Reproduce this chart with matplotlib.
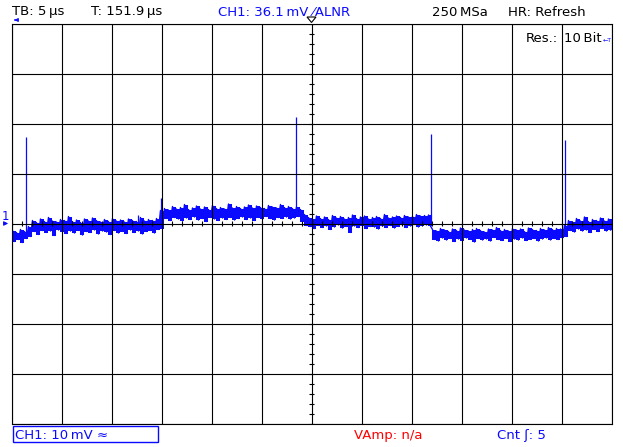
import numpy as np
import matplotlib
matplotlib.use("Agg")
import matplotlib.pyplot as plt
from matplotlib.patches import Polygon, Rectangle, FancyArrowPatch
from matplotlib.transforms import blended_transform_factory

# screen settings (5 us/div, 10 mV/div, 12 x 8 divisions)
time_per_div = 5.0      # us
volt_per_div = 10.0     # mV
ch1_offset = 0.4        # mV, ground marker
trig_level = 36.1       # mV

# trace envelope, one column every 0.4 us from -30 us, in mV (max / min of the column)
trace_hi = [
    -1.4, -1.8, -1.2, -1.6, -0.6, 0.6, 0.2, 0.9, 0.4, 1.2,
    0.5, 0.3, 0.8, 0.6, 1.4, 0.4, 0.7, 0.2, 0.9, 0.5,
    1.1, 0.6, 0.3, 0.8, 0.4, 1.0, 0.5, 0.7, 0.3, 0.9,
    0.6, 0.4, 1.2, 0.5, 0.8, 0.6, 1.0, 2.6, 3.0, 2.7,
    3.4, 2.9, 3.2, 3.8, 2.8, 3.1, 3.5, 2.9, 3.3, 2.8,
    3.6, 3.0, 3.2, 2.9, 3.9, 3.1, 3.4, 3.0, 3.3, 3.7,
    3.1, 3.5, 3.2, 3.0, 3.6, 3.3, 3.1, 3.8, 3.2, 3.4,
    3.0, 3.3, 2.8, 1.8, 1.2, 0.9, 1.5, 1.0, 1.3, 0.8,
    1.6, 1.1, 1.4, 0.9, 1.2, 1.7, 1.0, 1.3, 1.5, 0.9,
    1.2, 1.4, 1.0, 1.8, 1.1, 1.3, 1.5, 1.2, 1.6, 1.3,
    1.4, 1.8, 1.5, 1.6, 1.7, -1.2, -1.5, -1.0, -1.3, -1.6,
    -1.1, -1.4, -0.9, -1.3, -1.5, -1.2, -1.0, -1.4, -1.7, -1.1,
    -1.3, -0.8, -1.4, -1.2, -1.5, -1.0, -1.3, -1.1, -1.6, -0.9,
    -1.2, -1.4, -1.0, -1.3, -0.8, -1.2, -1.0, -1.1, -0.4, 0.6,
    0.3, 1.0, 0.5, 1.3, 0.4, 0.8, 0.6, 1.1, 0.5, 0.9,
]
trace_lo = [
    -3.6, -3.2, -3.8, -3.0, -2.6, -1.6, -2.2, -1.4, -1.8, -1.5,
    -2.4, -1.3, -1.7, -2.0, -1.5, -1.9, -1.4, -2.3, -1.6, -1.8,
    -1.3, -2.1, -1.5, -1.7, -2.2, -1.4, -1.9, -1.6, -2.0, -1.3,
    -1.8, -1.5, -2.1, -1.6, -1.4, -1.9, -1.2, -1.0, 1.0, 0.6,
    1.2, 0.9, 0.5, 1.1, 0.8, 1.3, 0.7, 1.0, 0.4, 1.2,
    0.9, 0.6, 1.1, 0.8, 1.2, 0.7, 1.0, 1.3, 0.8, 1.1,
    0.6, 1.2, 0.9, 1.4, 1.0, 0.7, 1.2, 1.0, 1.3, 0.9,
    1.1, 1.4, 0.4, -0.4, -0.6, -1.0, -0.4, -0.8, -0.5, -1.2,
    -0.7, -0.3, -0.9, -0.6, -1.8, -0.5, -0.8, -0.4, -1.0, -0.6,
    -0.7, -1.1, -0.5, -0.8, -0.4, -0.9, -0.6, -0.3, -0.8, -0.5,
    -0.2, -0.7, -0.4, -0.3, -0.5, -3.2, -3.5, -2.9, -3.3, -3.0,
    -3.6, -3.1, -3.4, -2.9, -3.2, -3.7, -3.0, -3.3, -3.1, -3.5,
    -2.8, -3.2, -3.4, -3.0, -3.6, -3.1, -3.3, -2.9, -3.4, -3.2,
    -3.0, -3.5, -3.1, -2.9, -3.3, -3.0, -3.2, -2.9, -2.6, -1.4,
    -1.7, -1.1, -1.5, -1.3, -1.8, -1.2, -1.6, -1.0, -1.5, -1.3,
]

# glitches: time (us), foot and top (mV)
spike_t = [-28.55, -17.35, -15.05, -1.6, 11.9, 25.38]
spike_base = [-2.5, -0.5, -0.5, 2.0, 0.2, -1.0]
spike_top = [17.4, 1.8, 5.2, 21.4, 18.0, 16.8]

BLUE = "#0a0aff"
RED = "#ff0000"
W, H = 623, 447


def fx(px):
    return px / W


def fy(py):
    return 1 - py / H


fig = plt.figure(figsize=(W / 100, H / 100), dpi=100)
fig.patch.set_facecolor("white")
ax = fig.add_axes([fx(11.5), fy(423.5), 600 / W, 400 / H])

t_span = 6 * time_per_div
v_span = 4 * volt_per_div
ax.set_xlim(-t_span, t_span)
ax.set_ylim(-v_span, v_span)

# graticule
ax.set_xticks(np.arange(-t_span, t_span + 0.1, time_per_div))
ax.set_yticks(np.arange(-v_span, v_span + 0.1, volt_per_div))
ax.tick_params(length=0, labelbottom=False, labelleft=False)
ax.grid(True, color="black", lw=0.8)
ax.set_axisbelow(False)
for s in ax.spines.values():
    s.set_linewidth(0.8)
    s.set_color("black")

# small ticks on the centre cross
minor_t = np.arange(-t_span, t_span + 0.1, time_per_div / 5)
minor_v = np.arange(-v_span, v_span + 0.1, volt_per_div / 5)
ax.vlines(minor_t, -0.46, 0.46, color="black", lw=0.8, zorder=3)
ax.hlines(minor_v, -0.23, 0.23, color="black", lw=0.8, zorder=3)

# trace: solid column envelope plus a zigzag between max and min
n = len(trace_hi)
t_col = -t_span + 0.2 + 0.4 * np.arange(n)
ax.vlines(t_col, trace_lo, trace_hi, color=BLUE, lw=2.9, zorder=2)
ts = np.empty(2 * n)
vs = np.empty(2 * n)
ts[0::2] = t_col - 0.1
ts[1::2] = t_col + 0.1
vs[0::2] = trace_hi
vs[1::2] = trace_lo
ax.plot(ts, vs, color=BLUE, lw=1.0, zorder=2)
ax.vlines(spike_t, spike_base, spike_top, color=BLUE, lw=0.9, zorder=2)

# trigger level marker on the right
ax.text(29.1, ch1_offset + trig_level, "\u2190T", color=BLUE, fontsize=4.5,
        ha="left", va="center", zorder=4)

# ground marker on the left
trans = blended_transform_factory(fig.transFigure, ax.transData)
ax.annotate("", xy=(fx(11), ch1_offset - 0.4), xycoords=trans,
            xytext=(fx(1.5), ch1_offset - 0.4), textcoords=trans,
            arrowprops=dict(arrowstyle="-|>", color=BLUE, lw=0.8, mutation_scale=6),
            annotation_clip=False)
fig.text(fx(1.5), fy(219.5), "1", color=BLUE, fontsize=8.5, va="baseline")

# header
top = fy(15.5)
fig.text(fx(12), top, "TB: 5\u2009\u00b5s", fontsize=9.5, va="baseline")
fig.text(fx(91), top, "T: 151.9\u2009\u00b5s", fontsize=9.5, va="baseline")
fig.text(fx(218.5), top, "CH1: 36.1\u2009mV \u2044ALNR", fontsize=9.5, color=BLUE, va="baseline")
fig.text(fx(432.5), top, "250\u2009MSa", fontsize=9.5, va="baseline")
fig.text(fx(508), top, "HR: Refresh", fontsize=9.5, va="baseline")
fig.text(fx(526), fy(41.8), "Res.:", fontsize=9.5, va="baseline")
fig.text(fx(563.5), fy(41.8), "10\u2009Bit", fontsize=9.5, va="baseline")

# pre-trigger arrow and trigger position triangle
fig.add_artist(FancyArrowPatch(
    (fx(18), fy(20)), (fx(11.5), fy(20)), transform=fig.transFigure,
    arrowstyle="-|>", color=BLUE, lw=0.8, mutation_scale=5))
fig.add_artist(Polygon([(fx(307), fy(17)), (fx(316), fy(17)), (fx(311.5), fy(22.5))],
                       closed=True, facecolor="white", edgecolor="black", lw=0.8,
                       transform=fig.transFigure))

# footer
bot = fy(438.7)
fig.add_artist(Rectangle((fx(12.5), fy(442)), 145 / W, 16 / H, fill=False,
                         edgecolor=BLUE, lw=1.0, transform=fig.transFigure))
fig.text(fx(14.7), bot, "CH1: 10\u2009mV \u2248", fontsize=9.5, color=BLUE, va="baseline")
fig.text(fx(354), bot, "VAmp: n/a", fontsize=9.5, color=RED, va="baseline")
fig.text(fx(497), bot, "Cnt \u0283: 5", fontsize=9.5, color=BLUE, va="baseline")

fig.savefig("out.png", dpi=100)
